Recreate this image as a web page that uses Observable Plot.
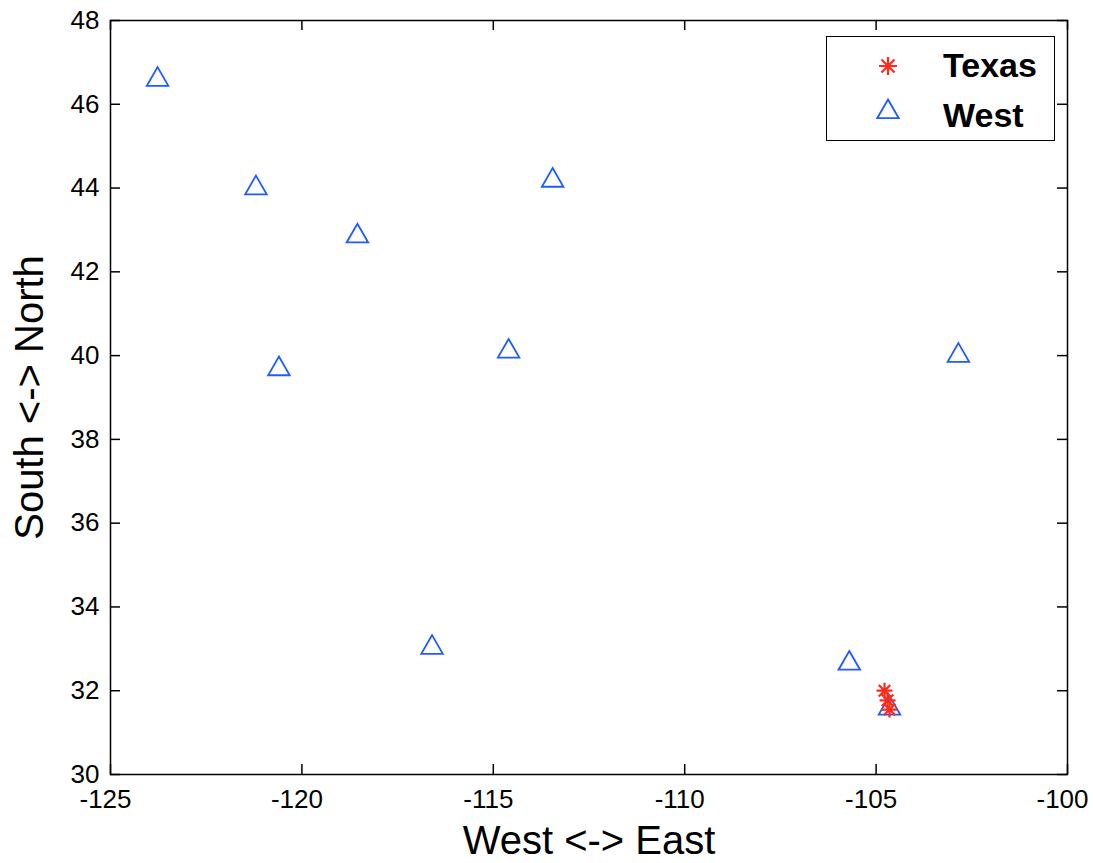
<!DOCTYPE html>
<html>
<head>
<meta charset="utf-8">
<script src="https://cdn.jsdelivr.net/npm/d3@7"></script>
<script src="https://cdn.jsdelivr.net/npm/@observablehq/plot@0.6"></script>
<style>
  html, body { margin: 0; padding: 0; background: white; }
  #wrap { position: relative; width: 1093px; height: 863px; font-family: "Liberation Sans", Arial, sans-serif; }
  #legend { position: absolute; left: 826px; top: 36px; width: 229px; height: 105px; border: 1.5px solid black; background: white; box-sizing: border-box; }
  #legend .lab { position: absolute; left: 116px; font-weight: bold; font-size: 34px; line-height: 1; color: black; }
  #legend svg { position: absolute; left: 0; top: 0; }
</style>
</head>
<body>
<div id="wrap"></div>
<script>
// Data
const westLon = [-123.77, -121.2, -118.55, -113.45, -120.6, -114.6, -102.85, -116.6, -105.7, -104.65];
const westLat = [46.59, 44.0, 42.85, 44.18, 39.68, 40.1, 40.0, 33.03, 32.65, 31.58];
const texasLon = [-104.78, -104.7, -104.65];
const texasLat = [32.0, 31.77, 31.55];
const xTicks = [-125, -120, -115, -110, -105, -100];
const yTicks = [30, 32, 34, 36, 38, 40, 42, 44, 46, 48];
const seriesNames = ["Texas", "West"];
const colors = {Texas: "#ff2a1a", West: "#1f5bff"};

const west = westLon.map((x, i) => ({x, y: westLat[i]}));
const texas = texasLon.map((x, i) => ({x, y: texasLat[i]}));

const W = 1093, H = 863;
const mL = 110, mR = 26, mT = 20, mB = 89;
const innerW = W - mL - mR, innerH = H - mT - mB;
const tickLen = 10;

const starSymbol = {
  draw(ctx, size) {
    const r = Math.sqrt(size / Math.PI);
    const d = r * 0.72;
    ctx.moveTo(-r, 0); ctx.lineTo(r, 0);
    ctx.moveTo(0, -r); ctx.lineTo(0, r);
    ctx.moveTo(-d, -d); ctx.lineTo(d, d);
    ctx.moveTo(-d, d); ctx.lineTo(d, -d);
  }
};

const chart = Plot.plot({
  width: W, height: H,
  marginLeft: mL, marginRight: mR, marginTop: mT, marginBottom: mB,
  style: {fontFamily: "'Liberation Sans', Arial, sans-serif", fontSize: "26px", color: "black", background: "white"},
  x: {domain: [-125, -100], ticks: xTicks, tickSize: 0, tickPadding: 15, label: null, tickFormat: d => d.toString()},
  y: {domain: [30, 48], ticks: yTicks, tickSize: 0, tickPadding: 11, label: null, tickFormat: d => d.toString()},
  marks: [
    Plot.frame({stroke: "black", strokeWidth: 1.5}),
    Plot.tickX(xTicks, {x: d => d, insetTop: innerH - tickLen, stroke: "black", strokeWidth: 1.5}),
    Plot.tickX(xTicks, {x: d => d, insetBottom: innerH - tickLen, stroke: "black", strokeWidth: 1.5}),
    Plot.tickY(yTicks, {y: d => d, insetRight: innerW - tickLen, stroke: "black", strokeWidth: 1.5}),
    Plot.tickY(yTicks, {y: d => d, insetLeft: innerW - tickLen, stroke: "black", strokeWidth: 1.5}),
    Plot.axisX({ticks: xTicks, tickSize: 0, tickPadding: 15, dx: -5, label: null, tickFormat: d => d.toString()}),
    Plot.axisY({ticks: yTicks, tickSize: 0, tickPadding: 11, label: null, tickFormat: d => d.toString()}),
    Plot.dot(west, {x: "x", y: "y", symbol: "triangle", r: 8, fill: "none", stroke: colors.West, strokeWidth: 1.8}),
    Plot.dot(texas, {x: "x", y: "y", symbol: starSymbol, r: 8, fill: "none", stroke: colors.Texas, strokeWidth: 2.2}),
    Plot.text(["West <-> East"], {frameAnchor: "bottom", dy: 67, text: d => d, fontSize: 40, textAnchor: "middle", lineAnchor: "middle", fill: "black"}),
    Plot.text(["South <-> North"], {frameAnchor: "left", dx: -80, text: d => d, fontSize: 40, rotate: -90, textAnchor: "middle", lineAnchor: "middle", fill: "black"})
  ]
});

const wrap = document.getElementById("wrap");
wrap.appendChild(chart);

// Legend overlay
const legend = document.createElement("div");
legend.id = "legend";
const ns = "http://www.w3.org/2000/svg";
const lsvg = document.createElementNS(ns, "svg");
lsvg.setAttribute("width", 229);
lsvg.setAttribute("height", 105);
const star = document.createElementNS(ns, "path");
const sp = d3.path(); starSymbol.draw(sp, 81 * Math.PI);
star.setAttribute("d", sp.toString());
star.setAttribute("transform", "translate(61,29)");
star.setAttribute("stroke", colors.Texas); star.setAttribute("stroke-width", 2.2); star.setAttribute("fill", "none");
lsvg.appendChild(star);
const tri = document.createElementNS(ns, "path");
tri.setAttribute("d", d3.symbol(d3.symbolTriangle, 64 * Math.PI)());
tri.setAttribute("transform", "translate(61,75)");
tri.setAttribute("stroke", colors.West); tri.setAttribute("stroke-width", 1.8); tri.setAttribute("fill", "none");
lsvg.appendChild(tri);
legend.appendChild(lsvg);
seriesNames.forEach((name, i) => {
  const s = document.createElement("div");
  s.className = "lab";
  s.textContent = name;
  s.style.top = (i === 0 ? 11 : 61) + "px";
  legend.appendChild(s);
});
wrap.appendChild(legend);
</script>
</body>
</html>
